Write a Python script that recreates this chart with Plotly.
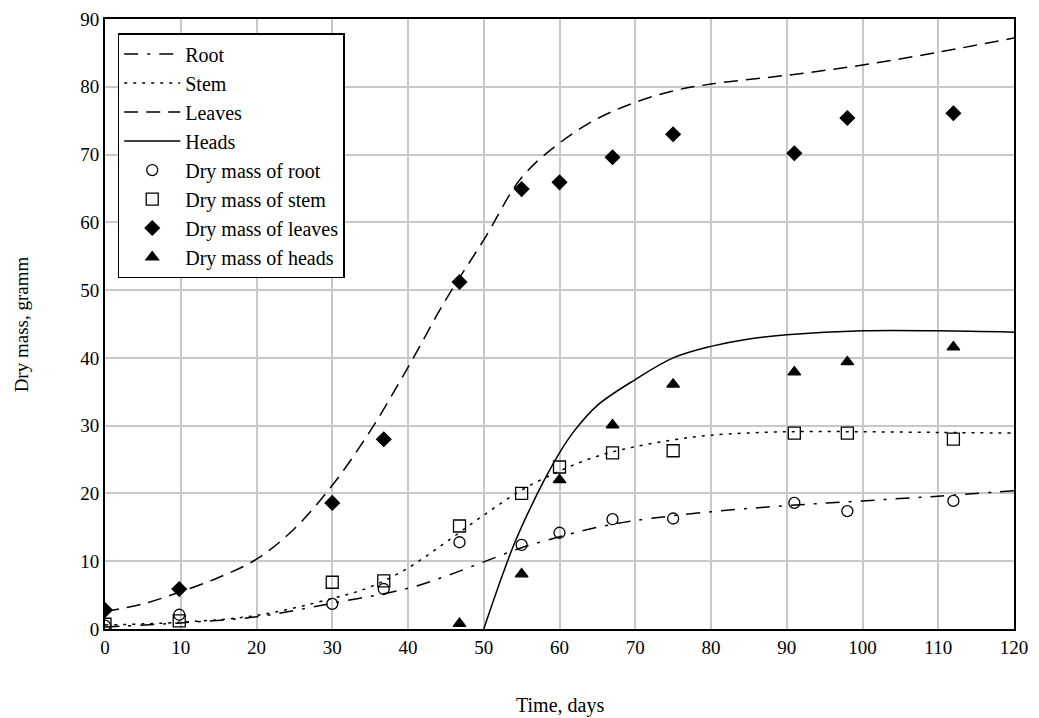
import plotly.graph_objects as go

# ---- fitted curves ----
root_t = [0, 10, 20, 30, 40, 45, 50, 55, 60, 65, 70, 80, 90, 100, 110, 120]
root_v = [0.3, 0.9, 1.8, 3.8, 6.0, 7.8, 9.9, 12.0, 13.6, 15.0, 16.0, 17.3, 18.2, 18.9, 19.6, 20.4]

stem_t = [0, 10, 20, 30, 35, 40, 45, 50, 55, 60, 65, 70, 75, 80, 90, 100, 110, 120]
stem_v = [0.6, 1.0, 2.0, 4.5, 6.2, 9.0, 12.8, 16.8, 20.5, 23.3, 25.5, 26.9, 27.9, 28.6, 29.1, 29.1, 29.0, 28.9]

leaves_t = [0, 5, 10, 15, 20, 25, 30, 35, 40, 45, 50, 55, 60, 65, 70, 75, 80, 90, 100, 110, 120]
leaves_v = [2.6, 3.7, 5.5, 7.6, 10.3, 14.8, 21.2, 29.2, 38.6, 48.6, 57.4, 66.6, 71.7, 75.3, 77.7, 79.4, 80.4, 81.7, 83.2, 85.1, 87.2]

heads_t = [50, 52, 54, 56, 58, 60, 62, 65, 70, 75, 80, 85, 90, 100, 110, 120]
heads_v = [0, 6.5, 12.5, 17.5, 22.0, 26.0, 29.3, 33.0, 36.8, 40.0, 41.7, 42.8, 43.4, 44.0, 44.0, 43.8]

# ---- measured dry mass ----
days = [0, 9.8, 30, 36.8, 46.8, 55, 60, 67, 75, 91, 98, 112]
root_mass = [0.5, 2.1, 3.7, 5.9, 12.8, 12.4, 14.2, 16.2, 16.3, 18.6, 17.4, 18.9]
stem_mass = [0.7, 1.2, 6.9, 7.1, 15.2, 20.0, 23.9, 26.0, 26.3, 28.9, 28.9, 28.0]
leaves_mass = [2.8, 5.9, 18.6, 28.0, 51.2, 64.9, 65.9, 69.6, 73.0, 70.2, 75.4, 76.1]
heads_days = [46.8, 55, 60, 67, 75, 91, 98, 112]
heads_mass = [0.8, 8.1, 22.0, 30.1, 36.1, 37.9, 39.4, 41.6]

x_ticks = list(range(0, 121, 10))
y_ticks = list(range(0, 91, 10))

FONT = "Liberation Serif"
fig = go.Figure()

def line(t, v, name, dash, g):
    fig.add_trace(go.Scatter(x=t, y=v, name=name, mode="lines", legendgroup=g,
                             line=dict(color="black", width=1.5, dash=dash, shape="spline")))

line(root_t, root_v, "Root", "14px,9px,3px,9px", "a")
line(stem_t, stem_v, "Stem", "3px,6px", "b")
line(leaves_t, leaves_v, "Leaves", "14px,8px", "c")
line(heads_t, heads_v, "Heads", "solid", "d")

def pts(t, v, name, sym, size, g):
    fig.add_trace(go.Scatter(x=t, y=v, name=name, mode="markers", legendgroup=g,
                             marker=dict(symbol=sym, size=size, color="black",
                                         line=dict(color="black", width=1.3))))

pts(days, root_mass, "Dry mass of root", "circle-open", 11, "e")
pts(days, stem_mass, "Dry mass of stem", "square-open", 12, "f")
pts(days, leaves_mass, "Dry mass of leaves", "diamond", 11, "g")
pts(heads_days, heads_mass, "Dry mass of heads", "triangle-up", 11, "h")

axis_common = dict(showgrid=True, gridcolor="#c8c8c8", gridwidth=1.5,
                   showline=True, linecolor="black", linewidth=2, mirror=True,
                   ticks="", zeroline=False, automargin=False,
                   tickfont=dict(family=FONT, size=19, color="black"))

fig.update_xaxes(range=[0, 120], tickvals=x_ticks, **axis_common)
fig.update_yaxes(range=[0, 90], tickvals=y_ticks, **axis_common)

fig.add_annotation(text="Time, days", xref="paper", yref="paper", x=0.5, y=-0.125,
                   xanchor="center", yanchor="middle", showarrow=False,
                   font=dict(family=FONT, size=20, color="black"))
fig.add_annotation(text="Dry mass, gramm", xref="paper", yref="paper", x=-0.092, y=0.5,
                   xanchor="center", yanchor="middle", showarrow=False, textangle=-90,
                   font=dict(family=FONT, size=19, color="black"))

# page body has an 8px default margin, so the figure is shrunk by 8px
fig.update_layout(
    width=1031, height=710,
    margin=dict(l=97, r=25, t=11, b=89),
    plot_bgcolor="white", paper_bgcolor="white",
    legend=dict(x=0.014, y=0.977, xanchor="left", yanchor="top",
                bgcolor="white", bordercolor="black", borderwidth=1.5,
                font=dict(family=FONT, size=20, color="black"),
                tracegroupgap=0, itemwidth=56),
)

fig.write_html("out.html")
